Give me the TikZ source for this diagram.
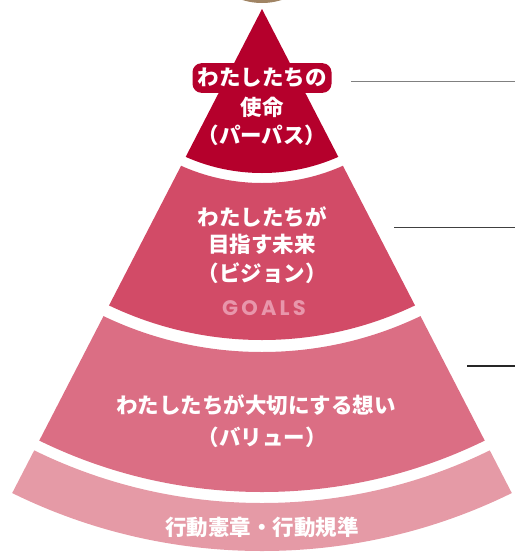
\documentclass[tikz,border=0pt]{standalone}
\usepackage{fontspec}
\newfontfamily\jp{Noto Sans CJK JP}
\newfontfamily\gfont{Poppins}[LetterSpace=15]
\definecolor{bandA}{HTML}{B5002C}
\definecolor{bandB}{HTML}{D24B67}
\definecolor{bandC}{HTML}{DB6E84}
\definecolor{bandD}{HTML}{E59AA6}
\definecolor{goalpink}{HTML}{E896AB}
\definecolor{brownish}{HTML}{A08464}
\tikzset{
  jptext/.style={text=white, font=\jp\bfseries\fontsize{21.5}{24}\selectfont, inner sep=0pt, anchor=center},
  halotext/.style={jptext, fill=bandA, rounded corners=9pt, inner xsep=5pt, inner ysep=5pt},
  goals/.style={text=goalpink, font=\gfont\bfseries\fontsize{21}{24}\selectfont, inner sep=0pt, anchor=center},
  leader/.style={line width=1.2pt}
}
\begin{document}
\begin{tikzpicture}[x=1pt,y=-1pt]
\useasboundingbox (0,0) rectangle (515,552);
% brown circle at top
\fill[brownish] (262,-62) circle[radius=65pt];
% bands
\begin{scope}
\clip (262,9) -- (-43,600) -- (567,600) -- cycle;
\coordinate (O) at (262,-15);
\fill[bandA] (O) circle[radius=188pt];
\fill[bandB, even odd rule] (O) circle[radius=355pt] (O) circle[radius=198pt];
\fill[bandC, even odd rule] (O) circle[radius=507pt] (O) circle[radius=367pt];
\fill[bandD, even odd rule] (O) circle[radius=566pt] (O) circle[radius=518pt];
\end{scope}
% leader lines
\coordinate (l1a) at (351,81.7); \coordinate (l1b) at (515,81.7);
\coordinate (l2a) at (394,227.3); \coordinate (l2b) at (515,227.3);
\coordinate (l3a) at (467,366); \coordinate (l3b) at (515,366);
\draw[leader, color=gray] (l1a) -- (l1b);
\draw[leader, color=black!75] (l2a) -- (l2b);
\draw[leader, color=black!85] (l3a) -- (l3b);
% top band
\node[halotext] (t1a) at (262,78) {わたしたちの};
\node[jptext] (t1b) at (262,107) {使命};
\node[jptext] (t1c) at (262,135) {（パーパス）};
% band 2
\node[jptext] (t2a) at (262,217) {わたしたちが};
\node[jptext] (t2b) at (262,244) {目指す未来};
\node[jptext] (t2c) at (262,273) {（ビジョン）};
\node[goals] (t2d) at (264,308) {GOALS};
% band 3
\node[jptext] (t3a) at (256,405) {わたしたちが大切にする想い};
\node[jptext] (t3b) at (262,437) {（バリュー）};
% band 4
\node[jptext] (t4a) at (262,527) {行動憲章・行動規準};
\end{tikzpicture}
\end{document}
